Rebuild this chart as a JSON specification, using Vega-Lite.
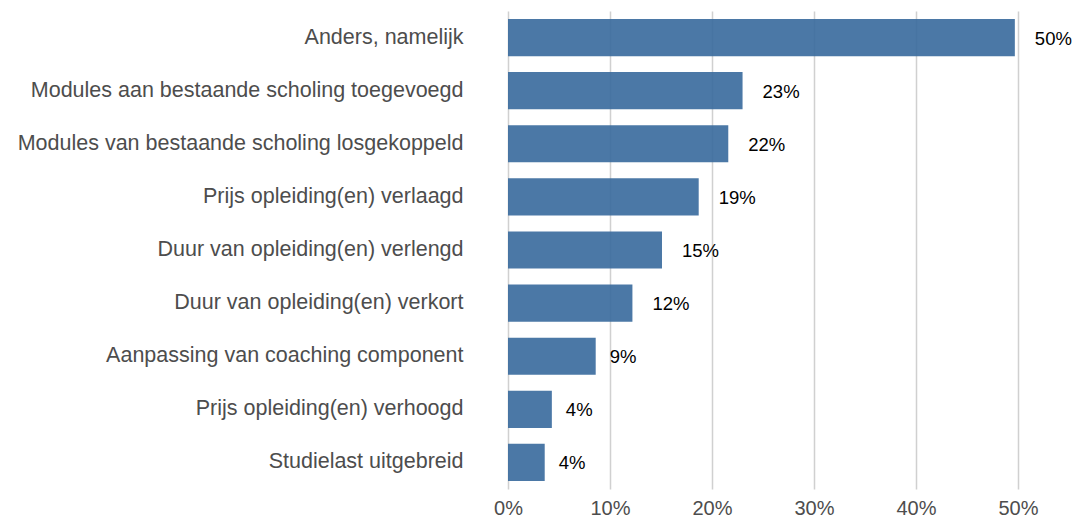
{
  "$schema": "https://vega.github.io/schema/vega-lite/v6.json",
  "autosize": "none",
  "width": 566,
  "height": 478,
  "padding": {"left": 508, "top": 11, "right": 0, "bottom": 28},
  "background": "white",
  "config": {
    "view": {"stroke": null},
    "font": "Liberation Sans"
  },
  "data": {
    "values": [
      {"categorie": "Anders, namelijk", "aandeel": 0.497},
      {"categorie": "Modules aan bestaande scholing toegevoegd", "aandeel": 0.230},
      {"categorie": "Modules van bestaande scholing losgekoppeld", "aandeel": 0.216},
      {"categorie": "Prijs opleiding(en) verlaagd", "aandeel": 0.187},
      {"categorie": "Duur van opleiding(en) verlengd", "aandeel": 0.151},
      {"categorie": "Duur van opleiding(en) verkort", "aandeel": 0.122},
      {"categorie": "Aanpassing van coaching component", "aandeel": 0.086},
      {"categorie": "Prijs opleiding(en) verhoogd", "aandeel": 0.043},
      {"categorie": "Studielast uitgebreid", "aandeel": 0.036}
    ]
  },
  "encoding": {
    "y": {
      "field": "categorie",
      "type": "nominal",
      "sort": null,
      "scale": {"paddingInner": 0.3, "paddingOuter": 0.15},
      "axis": {
        "title": null,
        "ticks": false,
        "domain": false,
        "labelPadding": 45,
        "labelFontSize": 21.5,
        "labelColor": "#4d4d4d",
        "labelLimit": 600
      }
    },
    "x": {
      "field": "aandeel",
      "type": "quantitative",
      "scale": {"domain": [0, 0.555], "nice": false},
      "axis": {
        "title": null,
        "values": [0, 0.1, 0.2, 0.3, 0.4, 0.5],
        "format": ".0%",
        "ticks": false,
        "domain": false,
        "grid": true,
        "gridColor": "#d0d0d0",
        "gridWidth": 1.5,
        "labelPadding": 9,
        "labelFontSize": 20,
        "labelColor": "#4d4d4d",
        "labelFlush": false
      }
    }
  },
  "layer": [
    {
      "mark": {"type": "bar", "color": "#37699c", "opacity": 0.9}
    },
    {
      "transform": [{"filter": "datum.aandeel >= 0.095"}],
      "mark": {"type": "text", "align": "left", "baseline": "middle", "dx": 20, "dy": 1, "fontSize": 18.5, "color": "black"},
      "encoding": {"text": {"field": "aandeel", "type": "quantitative", "format": ".0%"}}
    },
    {
      "transform": [{"filter": "datum.aandeel < 0.095"}],
      "mark": {"type": "text", "align": "left", "baseline": "middle", "dx": 14, "dy": 1, "fontSize": 18.5, "color": "black"},
      "encoding": {"text": {"field": "aandeel", "type": "quantitative", "format": ".0%"}}
    }
  ]
}
